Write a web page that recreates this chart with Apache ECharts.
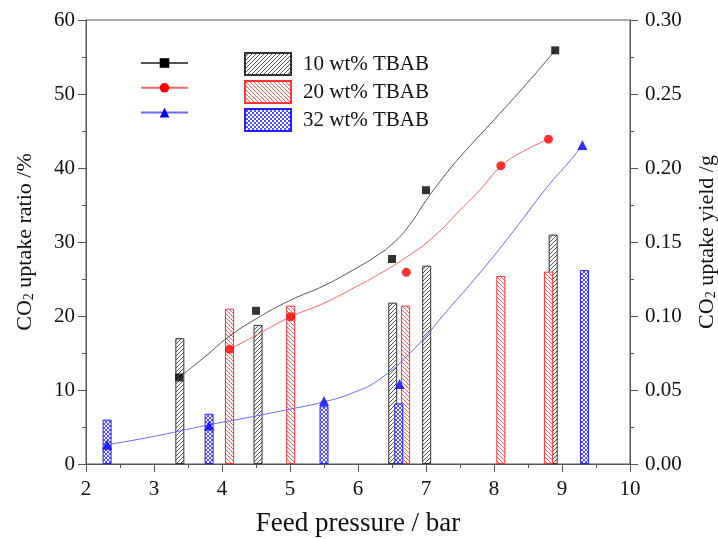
<!DOCTYPE html>
<html>
<head>
<meta charset="utf-8">
<script src="https://cdn.jsdelivr.net/npm/echarts@6/dist/echarts.min.js"></script>
<style>
  html, body { margin: 0; padding: 0; background: #fff; }
  #chart { width: 718px; height: 539px; }
</style>
</head>
<body>
<div id="chart"></div>
<script>
// Measured CO2 uptake ratio (%) vs feed pressure (bar)
const pressure10 = [3.37, 4.50, 6.50, 7.00, 8.90];
const ratio10    = [11.7, 20.7, 27.7, 37.0, 55.9];
const pressure20 = [4.11, 5.01, 6.71, 8.10, 8.80];
const ratio20    = [15.5, 19.9, 25.9, 40.3, 43.9];
const pressure32 = [2.31, 3.81, 5.50, 6.61, 9.30];
const ratio32    = [2.6, 5.2, 8.5, 10.8, 43.1];

// Fitted trend curves for the uptake ratio
const fitP10 = [3.37, 3.75, 4.10, 4.50, 5.00, 5.50, 6.00, 6.25, 6.50, 6.75, 7.00, 7.25, 7.50, 8.00, 8.50, 8.90];
const fitR10 = [11.7, 14.5, 17.2, 19.6, 22.1, 24.1, 26.6, 28.0, 29.7, 32.2, 35.6, 38.7, 41.5, 46.5, 51.6, 55.9];
const fitP20 = [4.11, 4.50, 5.01, 5.49, 5.98, 6.30, 6.72, 7.11, 7.50, 7.79, 8.10, 8.38, 8.80];
const fitR20 = [15.5, 17.4, 19.9, 21.7, 24.0, 25.6, 28.0, 30.7, 34.3, 37.0, 40.2, 42.0, 43.9];
const fitP32 = [2.31, 2.98, 3.81, 4.45, 4.94, 5.50, 5.92, 6.31, 6.81, 7.30, 7.79, 8.28, 8.77, 9.12, 9.30];
const fitR32 = [2.6, 3.7, 5.3, 6.4, 7.3, 8.4, 9.6, 11.4, 15.4, 20.6, 25.8, 31.4, 37.3, 41.0, 43.1];

// CO2 uptake yield (g), drawn as bars on the right axis
const barP10  = [3.38, 4.53, 6.51, 7.01, 8.87];
const yield10 = [0.085, 0.094, 0.109, 0.134, 0.155];
const barP20  = [4.11, 5.01, 6.70, 8.10, 8.80];
const yield20 = [0.105, 0.107, 0.107, 0.127, 0.130];
const barP32  = [2.31, 3.81, 5.50, 6.60, 9.33];
const yield32 = [0.030, 0.034, 0.039, 0.041, 0.131];

const names = ['10 wt% TBAB', '20 wt% TBAB', '32 wt% TBAB'];

const zip = (xs, ys) => xs.map((x, i) => [x, ys[i]]);

// Hatch fills for the bars
function hatch(color, dirs, size) {
  const c = document.createElement('canvas');
  c.width = size; c.height = size;
  const g = c.getContext('2d');
  g.fillStyle = '#fff';
  g.fillRect(0, 0, size, size);
  g.strokeStyle = color;
  g.lineWidth = 0.9;
  dirs.forEach(d => {
    g.beginPath();
    for (let k = -1; k <= 1; k++) {
      if (d === '/') {
        g.moveTo(k * size - 1, size + 1);
        g.lineTo(k * size + size + 1, -1);
      } else {
        g.moveTo(k * size - 1, -1);
        g.lineTo(k * size + size + 1, size + 1);
      }
    }
    g.stroke();
  });
  return { image: c, repeat: 'repeat' };
}

const fill10 = hatch('#444', ['/'], 4);
const fill20 = hatch('#ff4a4a', ['\\'], 4);
const fill32 = hatch('#3a3aff', ['/', '\\'], 4);

const serif = 'Liberation Serif';
const axisColor = '#555';
const ink = '#111';

function barSeries(name, xs, ys, fill, border) {
  return {
    name: name,
    type: 'bar',
    xAxisIndex: 0,
    yAxisIndex: 1,
    barWidth: 9,
    barGap: '-100%',
    itemStyle: { color: fill, borderColor: border, borderWidth: 1 },
    data: zip(xs, ys),
    z: 1
  };
}

function fitSeries(id, xs, ys, color, symbol, size) {
  return {
    name: id,
    type: 'line',
    smooth: 0.5,
    showSymbol: false,
    symbol: symbol,
    symbolSize: size,
    lineStyle: { color: color, width: 1 },
    itemStyle: { color: color },
    data: zip(xs, ys),
    z: 3
  };
}

function pointSeries(xs, ys, color, symbol, size) {
  return {
    type: 'scatter',
    symbol: symbol,
    symbolSize: size,
    itemStyle: { color: color },
    data: zip(xs, ys),
    z: 4
  };
}

const nameRich = {
  a: { fontFamily: serif, fontSize: 22, color: ink, lineHeight: 26, verticalAlign: 'bottom' },
  s: { fontFamily: serif, fontSize: 14, color: ink, lineHeight: 14, verticalAlign: 'bottom' }
};

const chart = echarts.init(document.getElementById('chart'));
chart.setOption({
  animation: false,
  backgroundColor: '#fff',
  grid: {
    left: 86, right: 88, top: 20, bottom: 75,
    outerBoundsMode: 'none', containLabel: false,
    show: true, borderColor: axisColor, borderWidth: 1
  },
  legend: [
    {
      data: [
        { name: 'fit10', itemStyle: { color: '#000' } },
        { name: 'fit20', itemStyle: { color: '#ff0000' } },
        { name: 'fit32', itemStyle: { color: '#0000ff' } }
      ],
      orient: 'vertical',
      left: 140, top: 57, padding: 0,
      itemWidth: 47, itemHeight: 12, itemGap: 14,
      formatter: () => '',
      selectedMode: false
    },
    {
      data: names,
      orient: 'vertical',
      left: 244, top: 52, padding: 0,
      icon: 'rect',
      itemWidth: 46, itemHeight: 22, itemGap: 4,
      textStyle: { fontFamily: serif, fontSize: 21, color: ink, padding: [0, 0, 0, 7] },
      selectedMode: false
    }
  ],
  xAxis: {
    type: 'value', min: 2, max: 10, interval: 1,
    name: 'Feed pressure / bar', nameLocation: 'middle', nameGap: 46,
    nameTextStyle: { fontFamily: serif, fontSize: 27, color: ink },
    axisLine: { lineStyle: { color: axisColor } },
    axisTick: { length: 8, lineStyle: { color: axisColor } },
    minorTick: { show: true, splitNumber: 2, length: 4, lineStyle: { color: axisColor } },
    axisLabel: { fontFamily: serif, fontSize: 21, color: ink, margin: 15 },
    splitLine: { show: false }
  },
  yAxis: [
    {
      type: 'value', min: 0, max: 60, interval: 10,
      name: '{a|CO}{s|2}{a| uptake ratio /%}', nameLocation: 'middle', nameGap: 50,
      nameTextStyle: { rich: nameRich },
      axisLine: { show: true, lineStyle: { color: axisColor } },
      axisTick: { length: 8, lineStyle: { color: axisColor } },
      minorTick: { show: true, splitNumber: 2, length: 4, lineStyle: { color: axisColor } },
      axisLabel: { fontFamily: serif, fontSize: 21, color: ink, margin: 11 },
      splitLine: { show: false }
    },
    {
      type: 'value', min: 0, max: 0.30, interval: 0.05,
      name: '{a|CO}{s|2}{a| uptake yield /g}', nameLocation: 'middle', nameGap: 62,
      nameRotate: 90,
      nameTextStyle: { rich: nameRich },
      axisLine: { show: true, lineStyle: { color: axisColor } },
      axisTick: { length: 8, lineStyle: { color: axisColor } },
      minorTick: { show: true, splitNumber: 2, length: 4, lineStyle: { color: axisColor } },
      axisLabel: { fontFamily: serif, fontSize: 21, color: ink, margin: 15, formatter: v => v.toFixed(2) },
      splitLine: { show: false }
    }
  ],
  series: [
    barSeries(names[0], barP10, yield10, fill10, '#333'),
    barSeries(names[1], barP20, yield20, fill20, '#ff3333'),
    barSeries(names[2], barP32, yield32, fill32, '#2222ff'),
    fitSeries('fit10', fitP10, fitR10, '#555', 'rect', 9),
    fitSeries('fit20', fitP20, fitR20, '#ff6666', 'circle', 9),
    fitSeries('fit32', fitP32, fitR32, '#6a6aff', 'triangle', 9),
    pointSeries(pressure10, ratio10, '#000', 'rect', 8),
    pointSeries(pressure20, ratio20, '#ff0000', 'circle', 9),
    pointSeries(pressure32, ratio32, '#0000ff', 'triangle', 10)
  ]
});
</script>
</body>
</html>
